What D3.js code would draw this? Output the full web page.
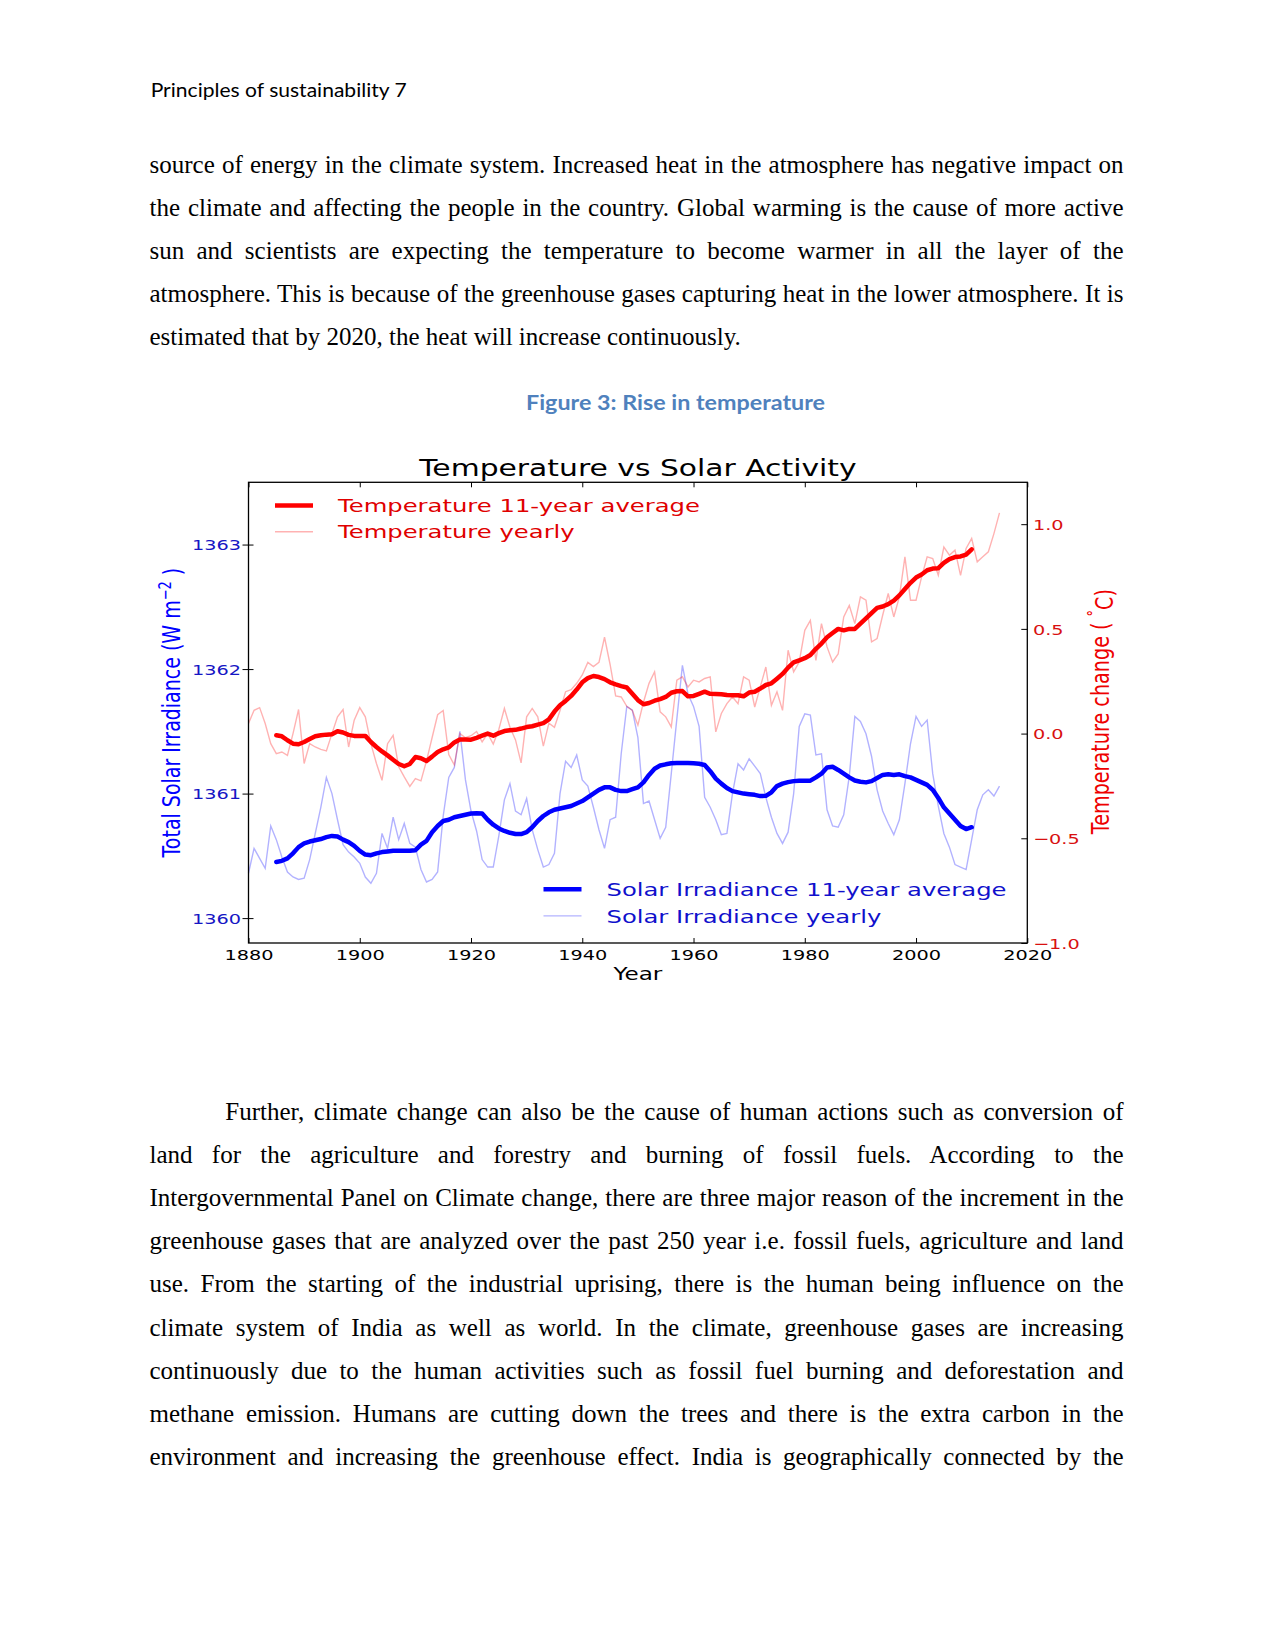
<!DOCTYPE html>
<html><head><meta charset="utf-8">
<script src="https://cdn.jsdelivr.net/npm/d3@7"></script>
<style>
body{margin:0;background:#fff;}
#page{position:relative;width:1275px;height:1651px;overflow:hidden;background:#fff;}
.ln{position:absolute;left:149.5px;width:974px;font-family:"Liberation Serif","Times New Roman",serif;font-size:25px;line-height:25px;color:#000;white-space:normal;}
.j{text-align:justify;text-align-last:justify;}
svg{position:absolute;left:0;top:0;}
</style></head>
<body><div id="page"></div>
<script>
// ---------------- data ----------------
const yearlyStart = 1880;          // first year of yearly series
const avgStart = 1885;             // first year of 11-year averages

const tempYearly = [
 0.048,0.111,0.124,0.048,-0.048,-0.096,-0.088,-0.104,0.0,0.115,
 -0.143,-0.048,-0.064,-0.075,-0.083,0.0,0.08,0.115,-0.064,0.064,
 0.124,0.08,-0.048,-0.143,-0.223,-0.048,-0.008,-0.159,-0.207,-0.252,
 -0.215,-0.226,-0.13,-0.02,0.09,0.11,-0.10,-0.15,0.0,-0.02,
 -0.01,0.01,-0.04,0.0,-0.05,0.02,0.12,0.03,-0.03,-0.14,
 0.08,0.12,0.08,-0.06,0.05,0.03,0.11,0.20,0.21,0.24,
 0.28,0.34,0.32,0.34,0.46,0.33,0.18,0.175,0.13,0.11,
 0.04,0.15,0.24,0.295,0.104,0.08,0.032,0.255,0.271,0.223,
 0.255,0.247,0.263,0.271,0.008,0.096,0.143,0.175,0.143,0.271,
 0.255,0.127,0.223,0.318,0.135,0.199,0.111,0.398,0.295,0.342,
 0.493,0.541,0.35,0.525,0.414,0.342,0.38,0.557,0.612,0.525,
 0.653,0.637,0.438,0.454,0.565,0.669,0.557,0.653,0.844,0.637,
 0.637,0.748,0.844,0.836,0.756,0.891,0.852,0.876,0.756,0.884,
 0.932,0.82,0.844,0.868,0.955,1.054
];

const tempAvg = [
 -0.008,-0.013,-0.032,-0.048,-0.051,-0.04,-0.026,-0.013,-0.008,-0.005,
 -0.003,0.011,0.005,-0.006,-0.011,-0.011,-0.011,-0.04,-0.064,-0.085,
 -0.104,-0.125,-0.145,-0.156,-0.145,-0.112,-0.118,-0.131,-0.11,-0.088,
 -0.075,-0.066,-0.042,-0.028,-0.028,-0.029,-0.02,-0.01,0.0,-0.01,
 0.002,0.012,0.016,0.018,0.024,0.031,0.035,0.043,0.05,0.068,
 0.105,0.135,0.156,0.18,0.21,0.245,0.265,0.275,0.27,0.26,
 0.245,0.235,0.227,0.22,0.19,0.16,0.14,0.146,0.157,0.165,
 0.175,0.195,0.202,0.203,0.178,0.18,0.19,0.2,0.19,0.189,
 0.188,0.184,0.183,0.183,0.178,0.196,0.2,0.215,0.232,0.24,
 0.262,0.285,0.315,0.34,0.35,0.36,0.375,0.405,0.43,0.46,
 0.48,0.5,0.493,0.5,0.5,0.525,0.55,0.575,0.6,0.607,
 0.618,0.635,0.66,0.69,0.72,0.745,0.76,0.78,0.788,0.79,
 0.815,0.833,0.843,0.846,0.855,0.88
];

const solarYearly = [
 1360.36,1360.56,1360.48,1360.40,1360.74,1360.63,1360.49,1360.37,1360.33,1360.31,
 1360.32,1360.47,1360.68,1360.89,1361.13,1361.00,1360.79,1360.59,1360.53,1360.49,
 1360.44,1360.33,1360.28,1360.36,1360.68,1360.56,1360.81,1360.63,1360.76,1360.60,
 1360.57,1360.39,1360.29,1360.31,1360.37,1360.82,1361.13,1361.21,1361.50,1361.11,
 1360.86,1360.70,1360.47,1360.41,1360.41,1360.66,1360.95,1361.08,1360.86,1360.83,
 1360.96,1360.71,1360.55,1360.41,1360.43,1360.52,1361.00,1361.26,1361.21,1361.31,
 1361.11,1361.06,1360.89,1360.71,1360.56,1360.79,1360.81,1361.32,1361.70,1361.67,
 1361.45,1360.92,1360.94,1360.79,1360.64,1360.73,1361.16,1361.60,1362.03,1361.80,
 1361.70,1361.54,1360.97,1360.89,1360.79,1360.67,1360.68,1361.00,1361.24,1361.19,
 1361.28,1361.22,1361.16,1360.97,1360.81,1360.68,1360.60,1360.69,1361.00,1361.54,
 1361.64,1361.63,1361.31,1361.32,1360.87,1360.74,1360.73,1360.83,1361.14,1361.62,
 1361.58,1361.48,1361.30,1361.03,1360.86,1360.76,1360.67,1360.79,1361.08,1361.40,
 1361.62,1361.54,1361.59,1361.16,1360.90,1360.68,1360.57,1360.43,1360.41,1360.39,
 1360.63,1360.87,1360.99,1361.03,1360.98,1361.06
];

const solarAvg = [
 1360.45,1360.46,1360.48,1360.52,1360.57,1360.60,1360.615,1360.625,1360.635,1360.65,
 1360.66,1360.655,1360.63,1360.61,1360.58,1360.54,1360.51,1360.505,1360.52,1360.53,
 1360.535,1360.54,1360.54,1360.54,1360.54,1360.545,1360.59,1360.62,1360.69,1360.74,
 1360.78,1360.79,1360.81,1360.82,1360.83,1360.84,1360.842,1360.84,1360.79,1360.75,
 1360.72,1360.70,1360.685,1360.675,1360.675,1360.69,1360.73,1360.78,1360.82,1360.85,
 1360.87,1360.88,1360.89,1360.90,1360.92,1360.94,1360.97,1361.00,1361.03,1361.05,
 1361.05,1361.03,1361.02,1361.02,1361.035,1361.05,1361.09,1361.15,1361.20,1361.225,
 1361.235,1361.243,1361.245,1361.245,1361.245,1361.243,1361.24,1361.23,1361.18,1361.12,
 1361.08,1361.045,1361.02,1361.01,1361.00,1360.995,1360.99,1360.98,1360.982,1361.01,
 1361.06,1361.08,1361.092,1361.10,1361.104,1361.103,1361.104,1361.13,1361.16,1361.21,
 1361.215,1361.19,1361.16,1361.13,1361.105,1361.095,1361.09,1361.10,1361.125,1361.15,
 1361.155,1361.15,1361.155,1361.14,1361.13,1361.11,1361.09,1361.07,1361.03,1360.965,
 1360.89,1360.84,1360.79,1360.74,1360.715,1360.73
];

const yearTicks = [1880,1900,1920,1940,1960,1980,2000,2020];
const solarTicks = [1360,1361,1362,1363];
const tempTicks = [-1.0,-0.5,0.0,0.5,1.0];

const chartTitle = "Temperature vs Solar Activity";
const xLabel = "Year";
const legendTemp = ["Temperature 11-year average","Temperature yearly"];
const legendSolar = ["Solar Irradiance 11-year average","Solar Irradiance yearly"];

const headerText = "Principles of sustainability 7";
const captionText = "Figure 3: Rise in temperature";
const para1 = [
 "source of energy in the climate system. Increased heat in the atmosphere has negative impact on",
 "the climate and affecting the people in the country. Global warming is the cause of more active",
 "sun and scientists are expecting the temperature to become warmer in all the layer of the",
 "atmosphere. This is because of the greenhouse gases capturing heat in the lower atmosphere. It is",
 "estimated that by 2020, the heat will increase continuously."
];
const para2 = [
 "Further, climate change can also be the cause of human actions such as conversion of",
 "land for the agriculture and forestry and burning of fossil fuels. According to the",
 "Intergovernmental Panel on Climate change, there are three major reason of the increment in the",
 "greenhouse gases that are analyzed over the past 250 year i.e. fossil fuels, agriculture and land",
 "use. From the starting of the industrial uprising, there is the human being influence on the",
 "climate system of India as well as world. In the climate, greenhouse gases are increasing",
 "continuously due to the human activities such as fossil fuel burning and deforestation and",
 "methane emission. Humans are cutting down the trees and there is the extra carbon in the",
 "environment and increasing the greenhouse effect. India is geographically connected by the"
];

// ---------------- page text ----------------
const page = d3.select("#page");
function addLines(lines, firstBaseline, step, lastLeft, indent) {
  lines.forEach((t, i) => {
    const isLast = lastLeft && i === lines.length - 1;
    page.append("div").attr("class", "ln" + (isLast ? "" : " j"))
      .style("top", (firstBaseline + i * step - 20.94) + "px")
      .style("text-indent", (i === 0 && indent) ? indent + "px" : null)
      .text(t);
  });
}
addLines(para1, 172.8, 43.1, true, 0);
addLines(para2, 1120, 43.1, false, 75.8);

// ---------------- chart ----------------
const svg = page.append("svg").attr("width", 1275).attr("height", 1651);

svg.append("text").attr("x", 150.7).attr("y", 96.7)
  .attr("font-family", "Lato, 'Open Sans', sans-serif").attr("font-size", 19.5)
  .attr("textLength", 256).attr("lengthAdjust", "spacingAndGlyphs")
  .attr("fill", "#000").text(headerText);

svg.append("text").attr("x", 675.5).attr("y", 410).attr("text-anchor", "middle")
  .attr("font-family", "Lato, 'Open Sans', sans-serif").attr("font-weight", "bold").attr("font-size", 21)
  .attr("textLength", 299).attr("lengthAdjust", "spacingAndGlyphs")
  .attr("fill", "#4f81bd").text(captionText);

const L = 248.5, R = 1027.3, T = 482.3, B = 943;
const SX = 1.32; // horizontal stretch of the original chart image
const FONT = "'DejaVu Sans', sans-serif";
const RED = "#ff0000", BLUE = "#0000ff";
const REDTXT = "#d81010", BLUETXT = "#1616c4";

const x = d3.scaleLinear().domain([1880, 2020]).range([L, R]);
const yS = d3.scaleLinear().domain([1359.8, 1363.5]).range([B, T]);
const yT = d3.scaleLinear().domain([-1, 1.2]).range([B, T]);

const g = svg.append("g");

// lines
const lineS = d3.line().x(d => x(d[0])).y(d => yS(d[1]));
const lineT = d3.line().x(d => x(d[0])).y(d => yT(d[1]));
const pairs = (arr, start) => arr.map((v, i) => [start + i, v]);

g.append("path").datum(pairs(solarYearly, yearlyStart)).attr("d", lineS)
  .attr("fill", "none").attr("stroke", BLUE).attr("stroke-opacity", 0.3).attr("stroke-width", 1.4);
g.append("path").datum(pairs(solarAvg, avgStart)).attr("d", lineS)
  .attr("fill", "none").attr("stroke", BLUE).attr("stroke-width", 4.5)
  .attr("stroke-linejoin", "round").attr("stroke-linecap", "round");
g.append("path").datum(pairs(tempYearly, yearlyStart)).attr("d", lineT)
  .attr("fill", "none").attr("stroke", RED).attr("stroke-opacity", 0.3).attr("stroke-width", 1.4);
g.append("path").datum(pairs(tempAvg, avgStart)).attr("d", lineT)
  .attr("fill", "none").attr("stroke", RED).attr("stroke-width", 4.5)
  .attr("stroke-linejoin", "round").attr("stroke-linecap", "round");

// frame
g.append("rect").attr("x", L).attr("y", T).attr("width", R - L).attr("height", B - T)
  .attr("fill", "none").attr("stroke", "#000").attr("stroke-width", 1.3);

// axes
const styleAxis = sel => { sel.select(".domain").remove(); sel.selectAll(".tick line").attr("stroke", "#000").attr("stroke-width", 1); };

const xb = g.append("g").attr("transform", `translate(0,${B})`)
  .call(d3.axisBottom(x).tickValues(yearTicks).tickFormat(d3.format("d")).tickSizeInner(-5).tickSizeOuter(0));
styleAxis(xb);
xb.selectAll(".tick text").attr("y", 17).attr("dy", 0).attr("transform", `scale(${SX},1)`)
  .attr("font-family", FONT).attr("font-size", 14.6).attr("fill", "#000");

const xt = g.append("g").attr("transform", `translate(0,${T})`)
  .call(d3.axisTop(x).tickValues(yearTicks).tickFormat("").tickSizeInner(-5).tickSizeOuter(0));
styleAxis(xt);

const yl = g.append("g").attr("transform", `translate(${L},0)`)
  .call(d3.axisLeft(yS).tickValues(solarTicks).tickFormat(d3.format("d")).tickSizeInner(6).tickSizeOuter(0));
styleAxis(yl);
yl.selectAll(".tick line").attr("x1", 5).attr("x2", -6);
yl.selectAll(".tick text").attr("x", -7.5 / SX).attr("dy", "0.36em").attr("transform", `scale(${SX},1)`)
  .attr("font-family", FONT).attr("font-size", 14.6).attr("fill", BLUETXT);

const yr = g.append("g").attr("transform", `translate(${R},0)`)
  .call(d3.axisRight(yT).tickValues(tempTicks).tickFormat(d3.format(".1f")).tickSizeInner(-6).tickSizeOuter(0));
styleAxis(yr);
yr.selectAll(".tick text").attr("x", 5.7 / SX).attr("dy", "0.36em").attr("transform", `scale(${SX},1)`)
  .attr("font-family", FONT).attr("font-size", 14.6).attr("fill", REDTXT);

// title and axis labels
svg.append("text").attr("transform", `translate(${(L + R) / 2},475.5) scale(1.33,1)`)
  .attr("text-anchor", "middle").attr("font-family", FONT).attr("font-size", 22.4)
  .attr("fill", "#000").text(chartTitle);

svg.append("text").attr("transform", `translate(${(L + R) / 2},980) scale(${SX},1)`)
  .attr("text-anchor", "middle").attr("font-family", FONT).attr("font-size", 17.5)
  .attr("fill", "#000").text(xLabel);

const ylab = svg.append("text").attr("transform", `translate(171,${(T + B) / 2}) scale(${SX},1) rotate(-90)`)
  .attr("text-anchor", "middle").attr("dy", "0.36em").attr("font-family", FONT).attr("font-size", 19)
  .attr("fill", BLUE);
ylab.append("tspan").text("Total Solar Irradiance (W m");
ylab.append("tspan").attr("dy", "-0.55em").attr("font-size", 13).text("\u22122");
ylab.append("tspan").attr("dy", "0.42em").text(" )");

const tlab = svg.append("text").attr("transform", `translate(1099.5,${(T + B) / 2 - 1}) scale(${SX},1) rotate(-90)`)
  .attr("text-anchor", "middle").attr("dy", "0.36em").attr("font-family", FONT).attr("font-size", 19.2)
  .attr("fill", "#ee0000");
tlab.append("tspan").text("Temperature change ( ");
tlab.append("tspan").attr("dy", "-0.5em").attr("font-size", 13).text("\u00b0");
tlab.append("tspan").attr("dy", "0.5em").text("C)");

// legends
function legend(rows, colors, x0, y0, step) {
  rows.forEach((txt, i) => {
    const yy = y0 + i * step;
    g.append("line").attr("x1", x0).attr("x2", x0 + 38).attr("y1", yy).attr("y2", yy)
      .attr("stroke", colors.line).attr("stroke-width", i === 0 ? 4.5 : 1.4)
      .attr("stroke-opacity", i === 0 ? 1 : 0.3);
    g.append("text").attr("transform", `translate(${x0 + 63},${yy + 6.6}) scale(${SX},1)`)
      .attr("font-family", FONT).attr("font-size", 18.4).attr("fill", colors.text).text(txt);
  });
}
legend(legendTemp, {line: RED, text: "#e00000"}, 275, 505.4, 26.4);
legend(legendSolar, {line: BLUE, text: "#1010cc"}, 543.5, 889.3, 26.6);
</script>
</body></html>
